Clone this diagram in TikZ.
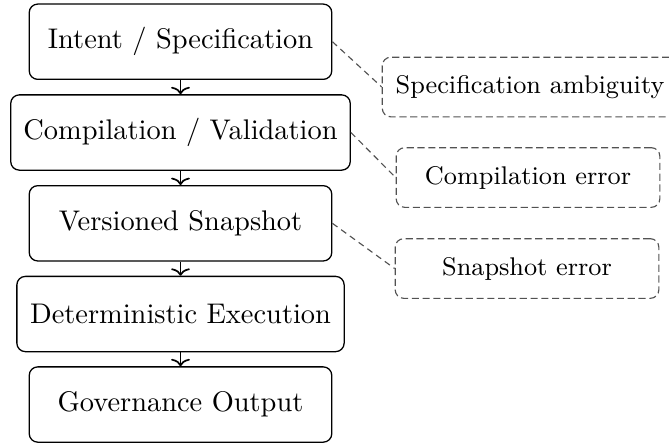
\documentclass[tikz,border=0pt]{standalone}
\usetikzlibrary{arrows.meta}
\begin{document}
\begin{tikzpicture}[x=0.352pt,y=-0.352pt,
  stage/.style={draw, rounded corners=3pt, minimum height=26.5pt, inner sep=3.3pt, line width=0.45pt},
  fault/.style={draw=black!68, rounded corners=3pt, dash pattern=on 2.5pt off 1.3pt, minimum height=21pt, inner sep=3.3pt, minimum width=92.8pt, font=\small},
  flow/.style={-{To[length=2.6pt,width=6.6pt]}, line width=0.6pt},
  link/.style={draw=black!68, dash pattern=on 2.2pt off 1.6pt, line width=0.4pt}]
\useasboundingbox (0,0) rectangle (669,443);

% main pipeline
\node[stage, minimum width=106.5pt] (intent) at (180.5,41.7) {Intent / Specification};
\node[stage, minimum width=119.5pt] (comp)   at (180.5,132.5) {Compilation / Validation};
\node[stage, minimum width=106.5pt] (snap)   at (180.5,223.3) {Versioned Snapshot};
\node[stage, minimum width=115.2pt] (exec)   at (180.5,314) {Deterministic Execution};
\node[stage, minimum width=106.5pt] (gov)    at (180.5,404.5) {Governance Output};

% failure modes
\node[fault, minimum width=104pt] (ambig) at (530,87) {Specification ambiguity};
\node[fault] (comperr) at (528,177.5) {Compilation error};
\node[fault] (snaperr) at (527,268.5) {Snapshot error};

\draw[flow] (intent.south) -- (comp.north);
\draw[flow] (comp.south) -- (snap.north);
\draw[flow] (snap.south) -- (exec.north);
\draw[flow] (exec.south) -- (gov.north);

\draw[link] (intent.east) -- (ambig.west);
\draw[link] (comp.east) -- (comperr.west);
\draw[link] (snap.east) -- (snaperr.west);
\end{tikzpicture}
\end{document}
